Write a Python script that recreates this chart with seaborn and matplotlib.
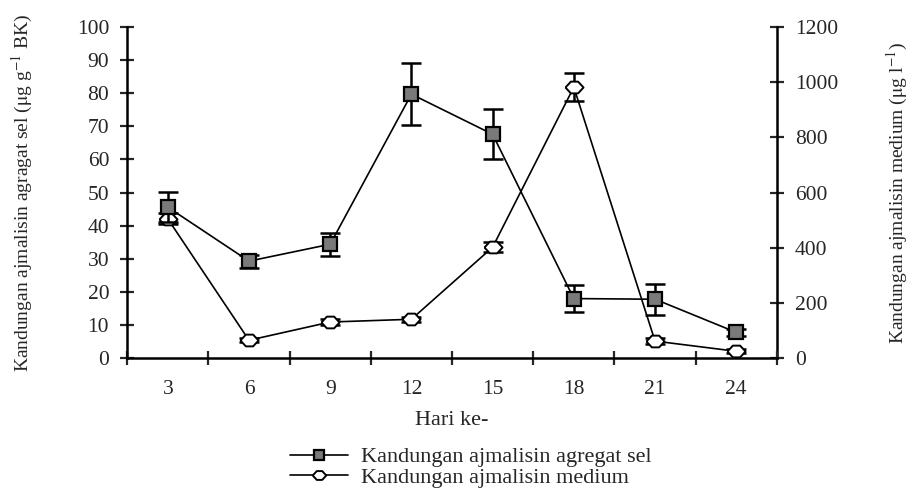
import seaborn as sns
import matplotlib.pyplot as plt
import numpy as np
import pandas as pd

sns.set_style("white")
plt.rcParams['font.family'] = ['Liberation Serif', 'DejaVu Serif']
plt.rcParams['mathtext.fontset'] = 'stix'

# data
hari = [3, 6, 9, 12, 15, 18, 21, 24]
agregat_sel = [45.6, 29.3, 34.4, 79.7, 67.6, 18.0, 17.8, 7.8]
agregat_err = [4.5, 2.0, 3.5, 9.3, 7.5, 4.0, 4.7, 1.0]
medium = [505, 65, 131, 141, 402, 982, 62, 25]
medium_err = [20, 8, 12, 10, 18, 50, 10, 8]

df = pd.DataFrame({'hari': hari, 'sel': agregat_sel, 'sel_err': agregat_err,
                   'medium': medium, 'medium_err': medium_err})

# flat open diamond like the original
wide_diamond = [(-1, 0), (-0.4, 0.65), (0.4, 0.65), (1, 0), (0.4, -0.65), (-0.4, -0.65), (-1, 0)]

fig = plt.figure(figsize=(9.15, 4.9), dpi=100)
ax = fig.add_axes([0.139, 0.269, 0.71, 0.676])
ax2 = ax.twinx()
ax.set_zorder(ax2.get_zorder() + 1)
ax.patch.set_visible(False)

# medium (right axis)
ax2.errorbar(df['hari'], df['medium'], yerr=df['medium_err'], fmt='none',
             ecolor='black', elinewidth=1.8, capsize=7, capthick=1.8, zorder=2)
sns.lineplot(data=df, x='hari', y='medium', ax=ax2, color='black', lw=1.2,
             marker=wide_diamond, markersize=13, markerfacecolor='white',
             markeredgecolor='black', markeredgewidth=1.4, zorder=3)

# agregat sel (left axis)
ax.errorbar(df['hari'], df['sel'], yerr=df['sel_err'], fmt='none',
            ecolor='black', elinewidth=1.8, capsize=7, capthick=1.8, zorder=2)
sns.lineplot(data=df, x='hari', y='sel', ax=ax, color='black', lw=1.2,
             marker='s', markersize=10, markerfacecolor='#7a7a7a',
             markeredgecolor='black', markeredgewidth=1.6, zorder=3)

ax.set_xlim(1.5, 25.5)
ax.set_ylim(0, 100)
ax2.set_ylim(0, 1200)
ax.set_yticks(np.arange(0, 101, 10))
ax2.set_yticks(np.arange(0, 1201, 200))
ax.set_xticks(hari)
ax.set_xticklabels([str(h) for h in hari])
ax.set_xticks(np.arange(1.5, 25.6, 3), minor=True)

for a in (ax, ax2):
    for s in a.spines.values():
        s.set_color('black')
        s.set_linewidth(1.8)
    a.spines['top'].set_visible(False)
    a.grid(False)
ax.spines['right'].set_visible(False)
ax2.spines['left'].set_visible(False)
ax2.spines['bottom'].set_visible(False)

ax.tick_params(axis='y', direction='inout', length=10, width=1.6, labelsize=15.5, pad=8, left=True)
ax2.tick_params(axis='y', direction='inout', length=10, width=1.6, labelsize=15.5, pad=8, right=True)
ax.tick_params(axis='x', which='major', length=0, labelsize=15.5, pad=16)
ax.tick_params(axis='x', which='minor', direction='inout', length=10, width=1.6, bottom=True)

ax.set_xlabel('Hari ke-', fontsize=16, labelpad=8)
ax.set_ylabel(r'Kandungan ajmalisin agragat sel ($\mathrm{\mu}$g g$^{-1}$ BK)', fontsize=14, labelpad=30)
ax2.set_ylabel(r'Kandungan ajmalisin medium ($\mathrm{\mu}$g l$^{-1}$)', fontsize=14, labelpad=34)

handles = [ax.lines[-1], ax2.lines[-1]]
leg = fig.legend(handles, ['Kandungan ajmalisin agregat sel', 'Kandungan ajmalisin medium'],
                 loc='upper center', bbox_to_anchor=(0.515, 0.12), frameon=False,
                 fontsize=16, handlelength=2.6, labelspacing=0.0, handletextpad=0.6,
                 markerscale=0.75, borderpad=0.2)

plt.savefig('out.png', dpi=100)
